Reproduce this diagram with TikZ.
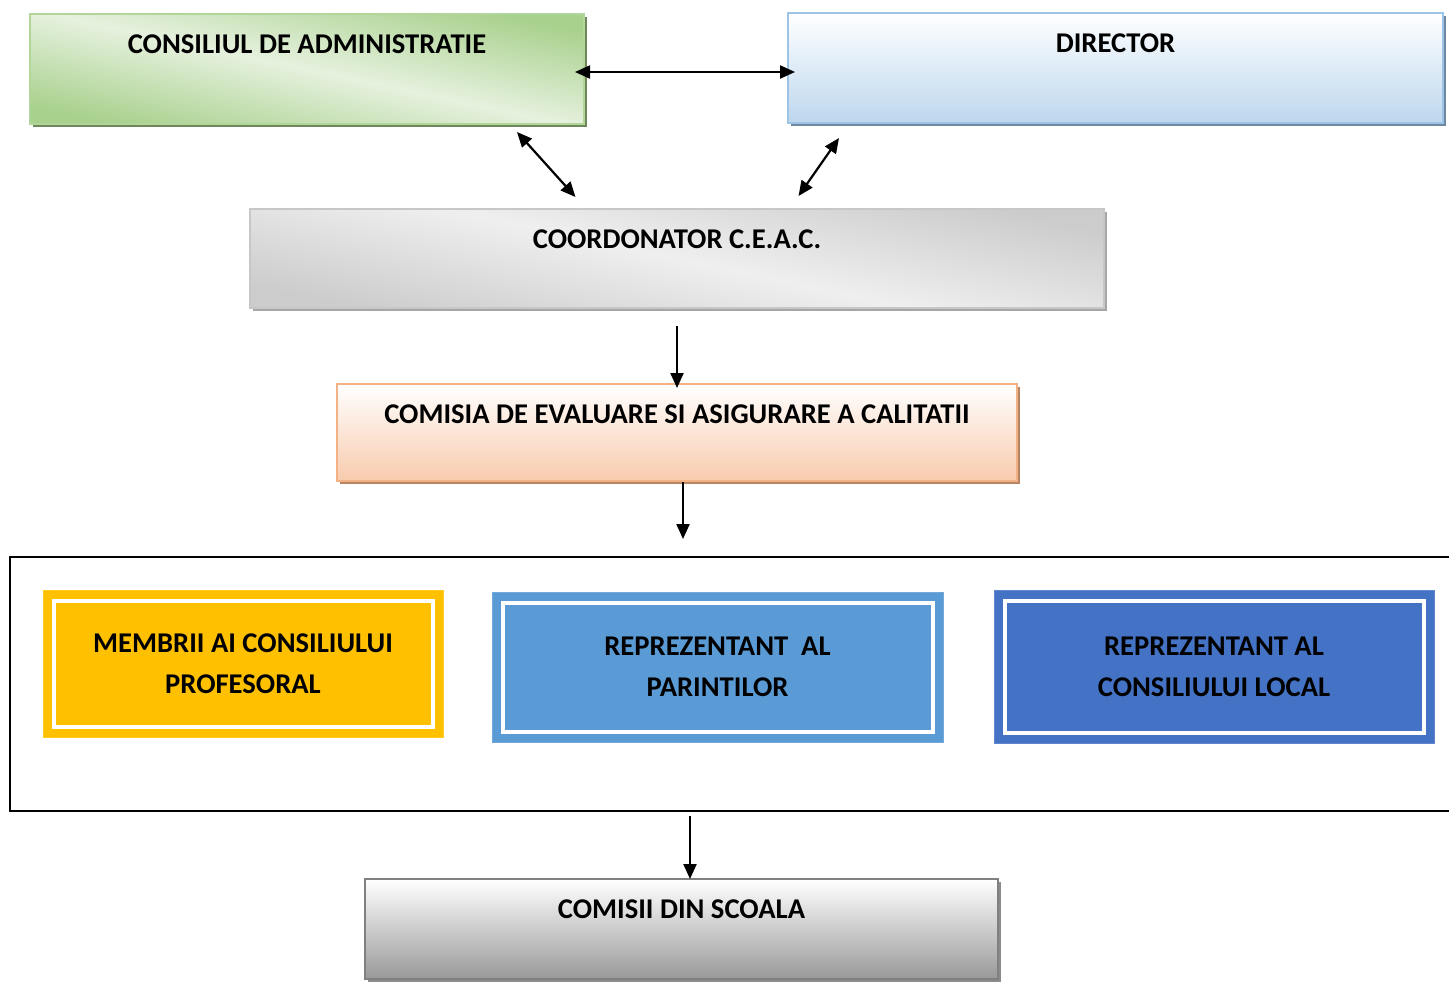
\documentclass[tikz,border=0pt]{standalone}
\usepackage{fontspec}
\setmainfont{Carlito}
\usetikzlibrary{
    arrows.meta,
    calc,
    shadows
}
\definecolor{boardgreen}{HTML}{A9D18E}
\definecolor{boardlight}{HTML}{E6F1DE}
\definecolor{boardedge}{HTML}{B2D69A}
\definecolor{dirblue}{HTML}{BDD7EE}
\definecolor{diredge}{HTML}{9DC3E6}
\definecolor{coordgray}{HTML}{CCCCCC}
\definecolor{coordlight}{HTML}{EFEFEF}
\definecolor{peach}{HTML}{F8CBAD}
\definecolor{peachedge}{HTML}{F4B183}
\definecolor{schoolgray}{HTML}{999999}
\definecolor{gold}{HTML}{FFC000}
\definecolor{parentblue}{HTML}{5B9BD5}
\definecolor{localblue}{HTML}{4472C4}
\tikzset{
    % Top boxes: title sits near the upper edge
    headbox/.style={
        rectangle,
        inner sep=0pt,
        text height=19.5pt,
        font=\fontsize{14.3}{17}\selectfont\bfseries,
        line width=1pt
    },
    % Flat offset shadow under the top boxes
    headshadow/.style={
        drop shadow={shadow xshift=1.5pt, shadow yshift=-1.5pt, opacity=1, fill=#1}
    },
    % Member boxes with white inner frame
    memberbox/.style={
        rectangle,
        inner sep=0pt,
        align=center,
        font=\fontsize{14.3}{20.5}\selectfont\bfseries,
        fill=#1,
        draw=#1!85!white,
        line width=0.5pt,
        path picture={
            \draw[white, line width=2pt]
                ([shift={(5.25pt,-5.25pt)}]path picture bounding box.north west)
                rectangle
                ([shift={(-5.25pt,5.25pt)}]path picture bounding box.south east);
        }
    },
    % Arrow styles
    link/.style={
        -{Triangle[length=7.5pt, width=6.5pt]},
        line width=1.1pt,
        black
    },
    twoway/.style={
        {Triangle[length=7.5pt, width=6.5pt]}-{Triangle[length=7.5pt, width=6.5pt]},
        line width=1.1pt,
        black
    }
}
\begin{document}
\begin{tikzpicture}[x=0.5pt, y=-0.5pt]
    \useasboundingbox (0,0) rectangle (1449,981);

    % Top row
    \node[headbox, headshadow=black!35!boardgreen, minimum width=277pt, text depth=35.5pt,
          draw=boardedge, top color=boardgreen, bottom color=boardgreen, middle color=boardlight,
          shading angle=-12] (board) at (307,69) {CONSILIUL DE ADMINISTRATIE};
    \node[headbox, headshadow=black!30!diredge, minimum width=327.5pt, text depth=35.5pt,
          draw=diredge, top color=white, bottom color=dirblue] (director) at (1115.5,68) {DIRECTOR};

    % Coordinator and commission
    \node[headbox, headshadow=black!35, minimum width=427pt, text depth=30pt,
          draw=black!22, top color=coordgray, bottom color=coordgray, middle color=coordlight,
          shading angle=-12] (coord) at (677,258.5) {COORDONATOR C.E.A.C.};
    \node[headbox, headshadow=black!25!peachedge, minimum width=340pt, text depth=29pt,
          draw=peachedge, top color=white, bottom color=peach] (comisia) at (677,432.5) {COMISIA DE EVALUARE SI ASIGURARE A CALITATII};

    % Member group
    \node[draw=black, line width=1pt, minimum width=725pt, minimum height=127pt, inner sep=0pt] (group) at (735,684) {};
    \node[memberbox=gold, minimum width=200pt, minimum height=73.5pt] (teachers) at (243,663.5) {MEMBRII AI CONSILIULUI\\PROFESORAL};
    \node[memberbox=parentblue, minimum width=225.5pt, minimum height=75pt] (parents) at (717.5,667) {REPREZENTANT\ \ AL\\PARINTILOR};
    \node[memberbox=localblue, minimum width=220pt, minimum height=76.5pt] (council) at (1214,666.5) {REPREZENTANT AL\\CONSILIULUI LOCAL};

    % School commissions
    \node[headbox, headshadow=black!45, minimum width=316.5pt, text depth=30.5pt,
          draw=black!50, top color=white, bottom color=schoolgray] (school) at (681.5,929) {COMISII DIN SCOALA};

    % Connections
    \draw[twoway] ([xshift=-5pt,yshift=-1.5pt]board.east) -- ([xshift=4pt,yshift=-2pt]director.west);
    \draw[twoway] ([xshift=-34pt,yshift=-3.5pt]board.south east) -- ([xshift=-50.75pt,yshift=5.5pt]coord.north);
    \draw[twoway] ([xshift=26pt,yshift=-7pt]director.south west) -- ([xshift=60.75pt,yshift=6pt]coord.north);
    \draw[link] ([yshift=-8.5pt]coord.south) -- ([yshift=-2.5pt]comisia.north);
    \draw[link] ([xshift=3pt]comisia.south) -- ([xshift=3pt,yshift=8.5pt]comisia.south |- group.north);
    \draw[link] ([xshift=4.25pt,yshift=-2pt]school.north |- group.south) -- ([xshift=4.25pt,yshift=-0.5pt]school.north);

\end{tikzpicture}
\end{document}
